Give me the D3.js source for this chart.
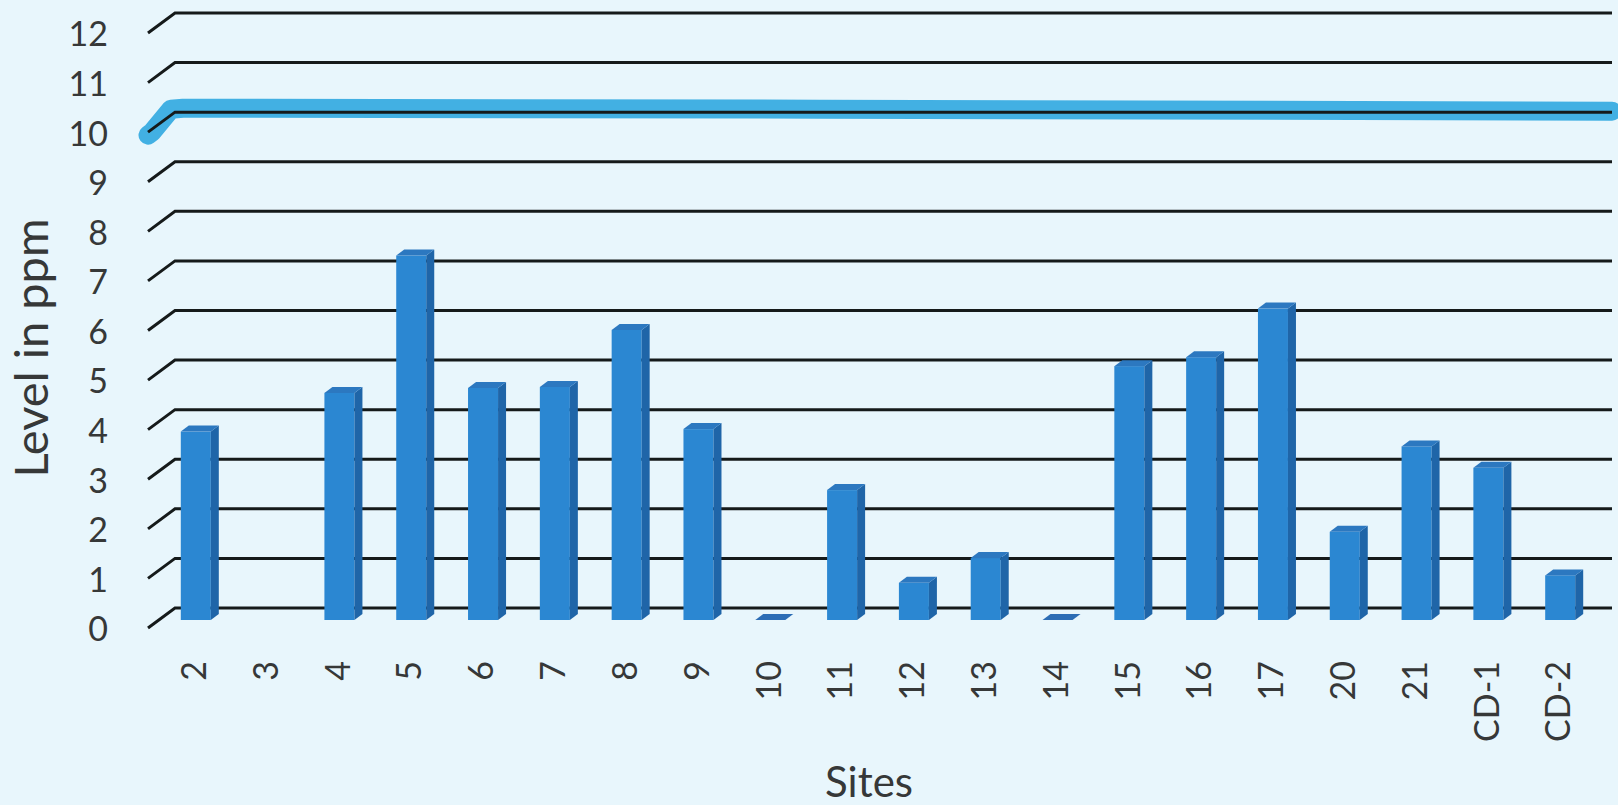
<!DOCTYPE html>
<html>
<head>
<meta charset="utf-8">
<script src="https://cdnjs.cloudflare.com/ajax/libs/d3/7.8.5/d3.min.js"></script>
<style>
  body { margin: 0; background: #e8f6fc; }
  svg { display: block; font-family: Lato, "Open Sans", sans-serif; }
</style>
</head>
<body>
<svg id="chart"></svg>
<script>
// Sites along the x axis and the level read for each (null = no sample)
const sites = ["2", "3", "4", "5", "6", "7", "8", "9", "10", "11", "12", "13", "14", "15", "16", "17", "20", "21", "CD-1", "CD-2"]
const levels = [3.8, null, 4.58, 7.35, 4.68, 4.7, 5.85, 3.85, 0, 2.62, 0.75, 1.25, 0, 5.12, 5.3, 6.28, 1.78, 3.5, 3.07, 0.9]
const yTickValues = [0, 1, 2, 3, 4, 5, 6, 7, 8, 9, 10, 11, 12]
const limitLevel = 10 // hand highlighted line

const width = 1618
const height = 805

// 3D look: floor depth of the walls and of the bars
const wall = { left: 175, right: 1612, depthX: 27, depthY: 20 }
const barDepth = { x: 8, y: 6 }
const barOffsetY = 12 // bars sit part way into the floor

const svg = d3.select("#chart").attr("width", width).attr("height", height)

const yScale = d3.scaleLinear().domain([0, 12]).range([608, 13])
const yFront = d3.scaleLinear().domain([0, 12]).range([608 + wall.depthY, 13 + wall.depthY])
const xScale = d3.scaleBand().domain(sites).range([139, 1617]).padding(0.582)

// highlighter stroke, under the gridlines
const hl = yScale(limitLevel) - 2
svg.append("path")
  .attr("d", d3.line()([
    [148, hl + wall.depthY + 5],
    [152, hl + wall.depthY + 2],
    [wall.left - 4, hl - 1],
    [wall.left + 8, hl - 2],
    [820, hl - 1],
    [wall.right, hl + 1],
  ]))
  .attr("fill", "none")
  .attr("stroke", "#2aa6df")
  .attr("stroke-width", 19)
  .attr("stroke-linecap", "round")
  .attr("stroke-linejoin", "round")
  .attr("opacity", 0.88)

// gridlines with slanted side wall part
const grid = svg.append("g")
grid.selectAll("path")
  .data(yTickValues)
  .enter()
  .append("path")
  .attr("d", d => d3.line()([
    [wall.left - wall.depthX, yScale(d) + wall.depthY],
    [wall.left, yScale(d)],
    [wall.right, yScale(d)],
  ]))
  .attr("fill", "none")
  .attr("stroke", "#151a1a")
  .attr("stroke-width", 3)

// bars
const base = yScale(0) + barOffsetY
const bw = xScale.bandwidth()
const bars = svg.append("g")
  .selectAll("g")
  .data(sites.map((s, i) => ({ site: s, value: levels[i] })).filter(d => d.value !== null))
  .enter()
  .append("g")

bars.each(function (d) {
  const g = d3.select(this)
  const x = xScale(d.site)
  const top = yScale(d.value) + barOffsetY
  if (d.value > 0) {
    g.append("rect")
      .attr("x", x)
      .attr("y", top)
      .attr("width", bw)
      .attr("height", base - top)
      .attr("fill", "#2b87d2")
    g.append("path")
      .attr("d", d3.line()([
        [x + bw, top],
        [x + bw + barDepth.x, top - barDepth.y],
        [x + bw + barDepth.x, base - barDepth.y],
        [x + bw, base],
      ]))
      .attr("fill", "#1f65a8")
  }
  g.append("path")
    .attr("d", d3.line()([
      [x, top],
      [x + barDepth.x, top - barDepth.y],
      [x + bw + barDepth.x, top - barDepth.y],
      [x + bw, top],
    ]))
    .attr("fill", d.value > 0 ? "#2c78c0" : "#2c6db5")
})

// axes
const yAxis = svg.append("g")
  .attr("transform", "translate(108,2)")
  .call(d3.axisLeft(yFront).tickValues(yTickValues).tickSize(0).tickPadding(0))
yAxis.select(".domain").remove()
yAxis.selectAll("text")
  .attr("fill", "#363838")
  .style("font-size", "34px")
  .style("font-family", "Lato, sans-serif")

const xAxis = svg.append("g")
  .attr("transform", "translate(-2,653)")
  .call(d3.axisBottom(xScale).tickSize(0).tickPadding(0))
xAxis.select(".domain").remove()
xAxis.selectAll("text")
  .attr("transform", "rotate(-90)")
  .attr("text-anchor", "end")
  .attr("x", -8)
  .attr("y", 0)
  .attr("dy", "0.36em")
  .attr("fill", "#363838")
  .style("font-size", "34px")
  .style("font-family", "Lato, sans-serif")

// titles
svg.append("text")
  .attr("x", 869)
  .attr("y", 797)
  .attr("text-anchor", "middle")
  .attr("fill", "#363838")
  .style("font-size", "42px")
  .text("Sites")

svg.append("text")
  .attr("transform", "translate(48,348) rotate(-90)")
  .attr("text-anchor", "middle")
  .attr("fill", "#363838")
  .style("font-size", "47px")
  .text("Level in ppm")
</script>
</body>
</html>
